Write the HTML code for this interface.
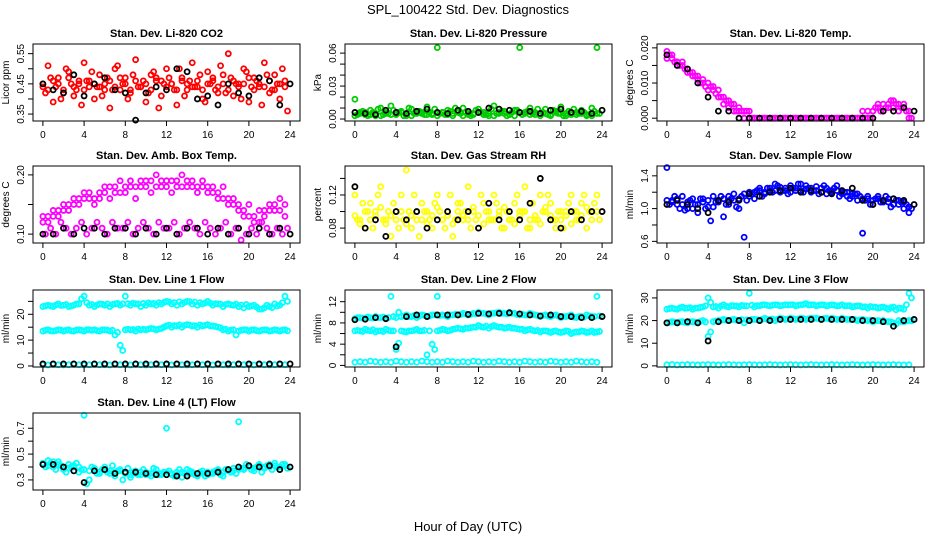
<!DOCTYPE html>
<html><head><meta charset="utf-8"><style>
body{margin:0;background:#fff;}
svg{display:block;font-family:"Liberation Sans",sans-serif;}
</style></head><body>
<svg id="chart" width="936" height="540" viewBox="0 0 936 540">
<text x="468" y="14" text-anchor="middle" font-size="13">SPL_100422  Std. Dev. Diagnostics</text>
<text x="468" y="531" text-anchor="middle" font-size="13">Hour of Day (UTC)</text>
</svg>
<script>
const hours48=[0,0.5,1,1.5,2,2.5,3,3.5,4,4.5,5,5.5,6,6.5,7,7.5,8,8.5,9,9.5,10,10.5,11,11.5,12,12.5,13,13.5,14,14.5,15,15.5,16,16.5,17,17.5,18,18.5,19,19.5,20,20.5,21,21.5,22,22.5,23,23.5];
const hours48b=[0.25,0.75,1.25,1.75,2.25,2.75,3.25,3.75,4.25,4.75,5.25,5.75,6.25,6.75,7.25,7.75,8.25,8.75,9.25,9.75,10.25,10.75,11.25,11.75,12.25,12.75,13.25,13.75,14.25,14.75,15.25,15.75,16.25,16.75,17.25,17.75,18.25,18.75,19.25,19.75,20.25,20.75,21.25,21.75,22.25,22.75,23.25,23.75];
const hours25=[0,1,2,3,4,5,6,7,8,9,10,11,12,13,14,15,16,17,18,19,20,21,22,23,24];
const xTicks=[0,4,8,12,16,20,24];

const co2A=[0.45,0.51,0.39,0.47,0.43,0.49,0.41,0.46,0.52,0.44,0.40,0.48,0.45,0.37,0.50,0.43,0.47,0.42,0.53,0.44,0.39,0.48,0.46,0.41,0.50,0.45,0.38,0.47,0.43,0.52,0.44,0.40,0.49,0.46,0.42,0.48,0.55,0.41,0.45,0.50,0.39,0.47,0.44,0.52,0.42,0.48,0.40,0.46];
const co2B=[0.42,0.47,0.44,0.40,0.50,0.45,0.43,0.38,0.46,0.49,0.44,0.41,0.47,0.43,0.51,0.45,0.40,0.48,0.44,0.46,0.42,0.49,0.37,0.45,0.47,0.43,0.50,0.41,0.46,0.44,0.48,0.39,0.45,0.43,0.51,0.42,0.47,0.45,0.40,0.49,0.44,0.46,0.38,0.48,0.43,0.45,0.50,0.36];
const co2C=[0.44,0.43,0.46,0.45,0.42,0.47,0.44,0.45,0.43,0.46,0.45,0.44,0.43,0.46,0.44,0.47,0.45,0.43,0.46,0.44,0.45,0.43,0.47,0.46,0.44,0.45,0.43,0.46,0.45,0.44,0.46,0.43,0.45,0.47,0.44,0.45,0.43,0.46,0.44,0.45,0.47,0.43,0.45,0.44,0.46,0.43,0.45,0.44];
const co2K=[0.45,0.43,0.42,0.48,0.41,0.45,0.47,0.43,0.42,0.33,0.42,0.44,0.43,0.50,0.49,0.40,0.41,0.38,0.45,0.42,0.41,0.47,0.46,0.38,0.45];

const presA=[0.018,0.006,0.004,0.008,0.003,0.010,0.005,0.012,0.004,0.007,0.003,0.009,0.006,0.005,0.011,0.004,0.065,0.006,0.008,0.003,0.007,0.010,0.005,0.004,0.009,0.006,0.003,0.012,0.005,0.007,0.004,0.008,0.065,0.006,0.010,0.004,0.005,0.009,0.003,0.007,0.011,0.005,0.006,0.004,0.008,0.003,0.010,0.065];
const presB=[0.004,0.007,0.003,0.006,0.009,0.004,0.005,0.008,0.006,0.003,0.010,0.005,0.007,0.004,0.006,0.009,0.005,0.004,0.007,0.010,0.005,0.006,0.003,0.008,0.006,0.004,0.009,0.005,0.007,0.003,0.006,0.008,0.004,0.007,0.005,0.009,0.006,0.004,0.008,0.005,0.003,0.007,0.009,0.005,0.006,0.004,0.007,0.005];
const presC=[0.003,0.005,0.006,0.004,0.005,0.003,0.006,0.004,0.005,0.006,0.004,0.003,0.005,0.006,0.004,0.005,0.003,0.006,0.004,0.005,0.006,0.003,0.004,0.005,0.006,0.004,0.005,0.003,0.006,0.005,0.004,0.003,0.006,0.005,0.004,0.006,0.003,0.005,0.004,0.006,0.005,0.003,0.004,0.006,0.005,0.004,0.003,0.005];
const presK=[0.006,0.005,0.004,0.008,0.006,0.005,0.007,0.009,0.006,0.005,0.008,0.007,0.006,0.010,0.009,0.008,0.006,0.007,0.005,0.008,0.009,0.006,0.007,0.005,0.008];

const tempA=[0.019,0.017,0.016,0.016,0.014,0.013,0.012,0.011,0.010,0.009,0.008,0.006,0.005,0.004,0.003,0.002,0.002,0.0,0.0,0.0,0.0,0.0,0.0,0.0,0.0,0.0,0.0,0.0,0.0,0.0,0.0,0.0,0.0,0.0,0.0,0.0,0.0,0.0,0.002,0.0,0.002,0.003,0.004,0.003,0.005,0.004,0.003,0.002];
const tempB=[0.018,0.016,0.015,0.014,0.013,0.012,0.010,0.009,0.009,0.007,0.006,0.005,0.004,0.002,0.002,0.002,0.0,0.0,0.0,0.0,0.0,0.0,0.0,0.0,0.0,0.0,0.0,0.0,0.0,0.0,0.0,0.0,0.0,0.0,0.0,0.0,0.0,0.0,0.0,0.0,0.003,0.002,0.003,0.005,0.004,0.003,0.002,0.0];
const tempC=[0.017,0.018,0.016,0.015,0.013,0.012,0.011,0.010,0.008,0.008,0.006,0.004,0.003,0.002,0.002,0.0,0.0,0.0,0.0,0.0,0.0,0.0,0.0,0.0,0.0,0.0,0.0,0.0,0.0,0.0,0.0,0.0,0.0,0.0,0.0,0.0,0.0,0.0,0.0,0.002,0.002,0.004,0.002,0.004,0.003,0.002,0.004,0.0];
const tempK=[0.018,0.015,0.014,0.010,0.006,0.002,0.002,0,0,0,0,0,0,0,0,0,0,0,0,0,0,0.002,0.002,0.003,0.002];

const boxA=[0.13,0.12,0.14,0.13,0.15,0.14,0.16,0.15,0.17,0.16,0.15,0.17,0.18,0.16,0.17,0.19,0.17,0.18,0.16,0.19,0.18,0.17,0.20,0.18,0.19,0.17,0.18,0.20,0.19,0.18,0.17,0.19,0.18,0.17,0.16,0.18,0.15,0.16,0.14,0.13,0.15,0.12,0.14,0.13,0.15,0.14,0.16,0.15];
const boxB=[0.10,0.11,0.10,0.12,0.11,0.10,0.11,0.12,0.10,0.11,0.12,0.11,0.10,0.12,0.11,0.11,0.12,0.10,0.11,0.12,0.11,0.10,0.12,0.11,0.11,0.12,0.10,0.11,0.12,0.11,0.10,0.12,0.11,0.10,0.11,0.12,0.10,0.11,0.09,0.10,0.11,0.10,0.12,0.11,0.10,0.11,0.10,0.11];
const boxC=[0.12,0.13,0.13,0.14,0.14,0.15,0.15,0.16,0.16,0.17,0.16,0.16,0.17,0.18,0.18,0.17,0.18,0.19,0.18,0.18,0.19,0.19,0.18,0.19,0.18,0.19,0.19,0.18,0.18,0.19,0.18,0.18,0.17,0.18,0.17,0.16,0.16,0.15,0.15,0.14,0.13,0.13,0.12,0.14,0.14,0.15,0.14,0.13];
const boxK=[0.10,0.10,0.11,0.10,0.11,0.11,0.10,0.11,0.11,0.10,0.11,0.10,0.11,0.10,0.11,0.11,0.10,0.11,0.10,0.11,0.10,0.11,0.10,0.11,0.10];

const rhA=[0.12,0.09,0.08,0.11,0.10,0.13,0.09,0.07,0.10,0.12,0.15,0.08,0.09,0.11,0.10,0.08,0.12,0.09,0.10,0.07,0.11,0.09,0.13,0.10,0.08,0.11,0.09,0.12,0.10,0.08,0.09,0.11,0.10,0.13,0.08,0.09,0.12,0.10,0.11,0.08,0.09,0.10,0.12,0.09,0.11,0.08,0.10,0.12];
const rhB=[0.09,0.11,0.10,0.08,0.12,0.09,0.10,0.11,0.08,0.09,0.10,0.12,0.07,0.10,0.09,0.11,0.10,0.08,0.12,0.09,0.11,0.10,0.08,0.09,0.12,0.10,0.09,0.11,0.08,0.10,0.09,0.12,0.10,0.08,0.11,0.09,0.10,0.12,0.09,0.10,0.08,0.11,0.10,0.09,0.12,0.10,0.11,0.09];
const rhC=[0.095,0.085,0.10,0.09,0.095,0.105,0.085,0.095,0.09,0.10,0.085,0.095,0.10,0.09,0.085,0.095,0.105,0.09,0.095,0.085,0.10,0.095,0.09,0.105,0.095,0.085,0.10,0.09,0.095,0.105,0.09,0.085,0.095,0.10,0.09,0.095,0.085,0.105,0.095,0.09,0.10,0.095,0.085,0.10,0.095,0.105,0.09,0.10];
const rhK=[0.13,0.08,0.09,0.07,0.10,0.09,0.10,0.08,0.09,0.10,0.09,0.10,0.08,0.11,0.09,0.10,0.09,0.11,0.14,0.09,0.08,0.10,0.09,0.10,0.10];

const sfA=[1.50,1.10,1.05,1.15,1.00,1.12,0.95,1.08,1.02,1.15,1.10,0.90,1.05,1.18,1.00,0.65,1.20,1.12,1.25,1.18,1.22,1.30,1.20,1.25,1.28,1.22,1.30,1.24,1.20,1.27,1.25,1.18,1.22,1.28,1.20,1.15,1.18,1.10,0.70,1.12,1.05,1.15,1.08,1.12,1.05,1.10,1.00,0.95];
const sfB=[1.05,1.15,1.00,0.98,1.10,1.05,1.12,1.00,0.85,1.08,1.15,1.05,1.12,1.02,1.15,1.10,1.18,1.22,1.15,1.25,1.20,1.28,1.22,1.18,1.25,1.30,1.20,1.25,1.22,1.18,1.28,1.22,1.25,1.15,1.20,1.12,1.18,1.15,1.10,1.05,1.12,1.08,1.15,1.02,1.10,1.08,1.05,1.00];
const sfC=[1.10,1.08,1.12,1.05,1.08,1.00,1.05,1.12,1.10,1.02,1.08,1.12,1.15,1.10,1.12,1.18,1.15,1.20,1.22,1.20,1.25,1.22,1.26,1.22,1.20,1.25,1.22,1.28,1.25,1.22,1.20,1.25,1.20,1.22,1.18,1.20,1.15,1.18,1.12,1.15,1.10,1.12,1.10,1.08,1.12,1.05,1.08,1.02];
const sfK=[1.05,1.10,1.05,1.00,0.95,1.10,1.08,1.10,1.18,1.15,1.20,1.22,1.25,1.20,1.22,1.20,1.18,1.22,1.25,1.10,1.05,1.10,1.12,1.10,1.05];

const l1Top=[23,23.5,23,24,23.5,23,23.5,24,27,23.5,23,24,23.5,23,24,23.5,27,23.5,24,23,23.5,24,23.5,24,25,24,23.5,24,25,24,23.5,24,25,23.5,24,23,24,23.5,23,22.5,23,23.5,22,22.5,23,24,23.5,27];
const l1TopB=[23.2,23.2,23.6,23.4,23.8,23.2,24,26,24.5,23.8,23.6,23.9,24,23.8,24.2,24,24.1,24.3,24,24.2,24.4,24.2,24.5,24.6,24.8,24.5,24.8,24.6,24.9,24.7,24.5,24.4,24.3,24.1,23.9,23.8,23.7,23.9,23.6,23.8,23.2,22.8,22,23.5,22.6,23.2,24.5,25];
const l1Mid=[13.5,14,13.5,14,13.5,14,13.5,14,13.5,14,14,13.5,14,13.5,12,8,14,14,13.5,14,14,14.5,14,14.5,15.5,15,15.5,15,16,15.5,15,15.5,16,15.5,15,14,13.5,14,13.5,14,13.5,14,13.5,14,13.5,14,13.5,14];
const l1MidB=[13.8,13.6,13.7,13.9,13.8,13.6,13.9,13.8,14,13.8,13.7,14,13.9,13.8,13,6,14.2,14.1,14.3,14.2,14.3,14.4,14.3,15,15.8,15.6,15.9,15.7,15.8,15.6,15.9,15.7,15.5,15.3,14.8,14.2,13.9,12,13.8,14,13.9,13.7,13.8,13.9,13.7,13.8,13.9,13.6];
const l1Low=[0.5,0.4,0.6,0.5,0.4,0.5,0.6,0.5,0.4,0.5,0.6,0.5,0.5,0.4,0.6,0.5,0.5,0.4,0.6,0.5,0.4,0.5,0.6,0.5,0.5,0.4,0.6,0.5,0.4,0.5,0.6,0.5,0.5,0.4,0.6,0.5,0.4,0.5,0.6,0.5,0.5,0.4,0.6,0.5,0.4,0.5,0.6,0.5];
const l1K=[0.8,0.8,0.8,0.8,0.8,0.8,0.8,0.8,0.8,0.8,0.8,0.8,0.8,0.8,0.8,0.8,0.8,0.8,0.8,0.8,0.8,0.8,0.8,0.8,0.8];

const l2Top=[8.8,9,8.8,9,9.2,9,8.8,13,9,9.2,9.5,9.2,9,9.5,9.2,9.5,13,9.5,9.2,9.5,9.5,9.8,9.5,9.8,10,9.8,9.5,9.8,10,9.8,10,9.8,9.5,9.5,9.8,9.5,9.2,9.5,9.2,9.5,9,9.2,9.5,9,9.2,9.5,9.2,13];
const l2TopB=[9,8.9,9.1,8.9,9,9.1,9,9.2,10,9.3,9.2,9.4,9.3,9.4,9.3,9.5,9.4,9.4,9.5,9.6,9.6,9.7,9.6,9.7,9.8,9.7,9.8,9.9,9.8,9.7,9.8,9.6,9.6,9.5,9.6,9.4,9.4,9.3,9.4,9.3,9.2,9.3,9.1,9.2,9.1,9.3,9.2,9.3];
const l2Mid=[6.5,6.5,6.8,6.5,6.3,6.5,6.8,6.5,3,6.5,6.3,6.5,6.8,6.5,2,4,6.5,6.8,6.5,6.8,7,6.8,7,7.2,7.5,7.2,7,7.5,7.2,7,7.2,7,6.8,6.5,6.8,6.5,6.3,6.5,6.2,6.5,6.2,6.5,6,6.3,6.5,6.2,6.5,6.3];
const l2MidB=[6.6,6.4,6.6,6.7,6.5,6.4,6.6,6.5,4.2,6.4,6.5,6.6,6.5,6.6,6.5,3,6.6,6.7,6.6,6.9,6.9,7,7.1,7.2,7.3,7.4,7.3,7.3,7.2,7.1,7,6.9,6.8,6.7,6.6,6.6,6.5,6.4,6.4,6.3,6.3,6.4,6.2,6.3,6.4,6.3,6.2,6.4];
const l2Low=[0.6,0.7,0.6,0.8,0.7,0.6,0.7,0.6,0.8,0.7,0.6,0.7,0.6,0.8,0.7,0.6,0.7,0.6,0.8,0.7,0.6,0.7,0.6,0.8,0.7,0.6,0.7,0.6,0.8,0.7,0.6,0.7,0.6,0.8,0.7,0.6,0.7,0.6,0.8,0.7,0.6,0.7,0.6,0.8,0.7,0.6,0.7,0.6];
const l2K=[8.6,8.7,9,8.8,3.5,9.2,9.5,9.2,9.5,9.5,9.5,9.6,9.8,9.7,9.8,9.9,9.7,9.5,9.3,9.5,9.2,9.2,9.0,9.0,9.2];

const l3Top=[25,25.5,25,26,25.5,25,25.5,26,30,26,25.5,27,26,26.5,26,26.5,32,26,26.5,27,26.5,27,26.5,27,27,26.5,27,27.5,27,26.5,27,26.5,27,26.5,27,26.5,26,26.5,26,25.5,26,25.5,26,25,26,25.5,25,32];
const l3TopB=[25.3,25.2,25.6,25.4,25.7,25.5,25.8,26.5,28,26.2,26.4,26.3,26.6,26.4,26.7,26.5,26.8,26.6,26.9,26.7,26.8,26.9,26.7,26.9,27,26.8,27.1,26.9,27,26.8,26.9,26.7,26.8,26.6,26.5,26.6,26.3,26.4,26.1,26.2,25.9,25.8,25.6,25.7,24.8,25.4,27,30];
const l3Mid=[19,19.5,19,19.5,19,19.5,19,20,13,19.5,20,20.5,20,20.5,20,19,20,20.5,20,21,20.5,20,21,20.5,21,20.5,21,20.5,21,21,20.5,21,21,20.5,21,20.5,20.5,20,20.5,20,19.5,20,20,19.5,19,20,19.5,20];
const l3MidB=[19.2,19.3,19.4,19.2,19.5,19.3,19.6,19.4,15,19.8,20.1,20.2,20.3,20.2,20.4,20.3,20.5,20.4,20.6,20.5,20.7,20.6,20.8,20.7,20.8,20.7,20.9,20.8,20.9,20.8,20.9,20.7,20.8,20.6,20.7,20.5,20.4,20.3,20.2,20.1,19.9,19.8,19.6,19.4,18.5,19.6,19.8,19.9];
const l3Low=[0.5,0.6,0.4,0.5,0.6,0.5,0.4,0.5,0.6,0.5,0.4,0.5,0.6,0.5,0.4,0.5,0.6,0.5,0.4,0.5,0.6,0.5,0.4,0.5,0.6,0.5,0.4,0.5,0.6,0.5,0.4,0.5,0.6,0.5,0.4,0.5,0.6,0.5,0.4,0.5,0.6,0.5,0.4,0.5,0.6,0.5,0.4,0.5];
const l3K=[19,19,19.5,19,11,19.5,20,20,20,20,20,20.5,20.5,20.5,20.5,20.5,20.5,20.5,20.5,20,20,19.5,17.5,20,20.5];

const l4A=[0.42,0.45,0.40,0.44,0.38,0.42,0.40,0.36,0.80,0.30,0.38,0.35,0.40,0.37,0.33,0.38,0.35,0.32,0.37,0.34,0.36,0.33,0.38,0.35,0.70,0.34,0.36,0.32,0.38,0.35,0.33,0.37,0.34,0.36,0.38,0.33,0.37,0.39,0.75,0.38,0.41,0.37,0.42,0.39,0.40,0.43,0.38,0.41];
const l4B=[0.40,0.43,0.38,0.41,0.36,0.40,0.43,0.38,0.27,0.40,0.35,0.38,0.36,0.41,0.37,0.30,0.39,0.36,0.34,0.38,0.35,0.39,0.34,0.36,0.37,0.33,0.38,0.35,0.37,0.34,0.36,0.33,0.35,0.37,0.34,0.38,0.36,0.35,0.39,0.42,0.38,0.40,0.36,0.41,0.38,0.40,0.42,0.39];
const l4C=[0.43,0.41,0.44,0.42,0.40,0.39,0.41,0.40,0.38,0.37,0.39,0.36,0.38,0.35,0.36,0.37,0.35,0.34,0.35,0.36,0.34,0.35,0.35,0.34,0.36,0.35,0.34,0.36,0.35,0.36,0.34,0.35,0.36,0.35,0.37,0.36,0.38,0.37,0.38,0.39,0.40,0.39,0.41,0.40,0.42,0.41,0.40,0.42];
const l4K=[0.42,0.42,0.40,0.37,0.28,0.37,0.38,0.35,0.36,0.36,0.35,0.34,0.34,0.33,0.33,0.35,0.35,0.36,0.38,0.40,0.41,0.40,0.41,0.38,0.40];

const panels=[
 {name:'co2',title:'Stan. Dev. Li-820 CO2',ylab:'Licor ppm',dom:[0.327,0.582],yt:[0.35,0.40,0.45,0.50,0.55],yl:['0.35','','0.45','','0.55'],col:'#ff0000',s:[co2A,co2B,co2C],k:co2K},
 {name:'pressure',title:'Stan. Dev. Li-820 Pressure',ylab:'kPa',dom:[-0.0018,0.0683],yt:[0,0.01,0.02,0.03,0.04,0.05,0.06],yl:['0.00','','','0.03','','','0.06'],col:'#00cc00',s:[presA,presB,presC],k:presK},
 {name:'temp',title:'Stan. Dev. Li-820 Temp.',ylab:'degrees C',dom:[-0.0008,0.0211],yt:[0,0.005,0.010,0.015,0.020],yl:['0.000','','0.010','','0.020'],col:'#ff00ff',s:[tempA,tempB,tempC],k:tempK},
 {name:'amb-box-temp',title:'Stan. Dev. Amb. Box Temp.',ylab:'degrees C',dom:[0.085,0.215],yt:[0.10,0.15,0.20],yl:['0.10','','0.20'],col:'#ff00ff',s:[boxA,boxB,boxC],k:boxK},
 {name:'gas-rh',title:'Stan. Dev. Gas Stream RH',ylab:'percent',dom:[0.062,0.155],yt:[0.08,0.10,0.12,0.14],yl:['0.08','','0.12',''],col:'#ffff00',s:[rhA,rhB,rhC],k:rhK},
 {name:'sample-flow',title:'Stan. Dev. Sample Flow',ylab:'ml/min',dom:[0.58,1.52],yt:[0.6,0.8,1.0,1.2,1.4],yl:['0.6','','1.0','','1.4'],col:'#0000ff',s:[sfA,sfB,sfC],k:sfK},
 {name:'line1-flow',title:'Stan. Dev. Line 1 Flow',ylab:'ml/min',dom:[-0.4,29.4],yt:[0,5,10,15,20,25],yl:['0','','10','','20',''],col:'#00ffff',s:[l1Top,l1TopB,l1Mid,l1MidB,l1Low],k:l1K},
 {name:'line2-flow',title:'Stan. Dev. Line 2 Flow',ylab:'ml/min',dom:[-0.3,14.2],yt:[0,2,4,6,8,10,12],yl:['0','','4','','8','','12'],col:'#00ffff',s:[l2Top,l2TopB,l2Mid,l2MidB,l2Low],k:l2K},
 {name:'line3-flow',title:'Stan. Dev. Line 3 Flow',ylab:'ml/min',dom:[-0.5,33.5],yt:[0,10,20,30],yl:['0','10','20','30'],col:'#00ffff',s:[l3Top,l3TopB,l3Mid,l3MidB,l3Low],k:l3K},
 {name:'line4-flow',title:'Stan. Dev. Line 4 (LT) Flow',ylab:'ml/min',dom:[0.222,0.818],yt:[0.3,0.4,0.5,0.6,0.7],yl:['0.3','','0.5','','0.7'],col:'#00ffff',s:[l4A,l4B,l4C],k:l4K}
];
const colLeft=[33,345,657], rowTop=[44,166,290,413], W=267, H=77;
const NS='http://www.w3.org/2000/svg';
const svg=document.getElementById('chart');
function mk(tag,attrs,parent){const e=document.createElementNS(NS,tag);for(const a in attrs)e.setAttribute(a,attrs[a]);parent.appendChild(e);return e;}
panels.forEach((p,i)=>{
  const L=colLeft[i%3], T=rowTop[Math.floor(i/3)];
  const xs=h=>L+9.9+h*(W-19.8)/24;
  const ys=v=>T+H-(v-p.dom[0])/(p.dom[1]-p.dom[0])*H;
  const g=mk('g',{},svg);
  
  
  const t=mk('text',{x:L+W/2,y:T-7,'text-anchor':'middle','font-size':'11','font-weight':'bold'},g);
  t.textContent=p.title;
  
  
  const pts=mk('g',{fill:'none','stroke-width':'1.8'},g);
  
  
  p.s.forEach((arr,si)=>{
    const hs=si%2===0?hours48:hours48b;
    arr.forEach((v,j)=>{
      const c=mk('circle',{cx:xs(hs[j]),cy:ys(v),r:2.5,stroke:p.col},pts);
      
      
    });
  });
  p.k.forEach((v,j)=>{
    const c=mk('circle',{cx:xs(hours25[j]),cy:ys(v),r:2.5,stroke:'#000'},pts);
    
    
  });
  const box=mk('rect',{x:L,y:T,width:W,height:H,fill:'none',stroke:'#000','stroke-width':'1'},g);
  
  
  const ax=mk('g',{stroke:'#000','stroke-width':'1'},g);
  
  
  mk('line',{x1:xs(0),x2:xs(24),y1:T+H,y2:T+H},ax);
  xTicks.forEach(h=>{
    mk('line',{x1:xs(h),x2:xs(h),y1:T+H,y2:T+H+5},ax);
    const tl=mk('text',{x:xs(h),y:T+H+17,'text-anchor':'middle','font-size':'10',stroke:'none'},g);
    tl.textContent=h;
    
    
  });
  p.yt.forEach((v,j)=>{
    mk('line',{x1:L-5,x2:L,y1:ys(v),y2:ys(v)},ax);
    if(p.yl[j]){
      const yl=mk('text',{x:L-9,y:ys(v),'text-anchor':'middle','font-size':'10',transform:`rotate(-90 ${L-9} ${ys(v)})`},g);
      yl.textContent=p.yl[j];
      
      
    }
  });
  const yt=mk('text',{x:L-24,y:T+H/2,'text-anchor':'middle','font-size':'10',transform:`rotate(-90 ${L-24} ${T+H/2})`},g);
  yt.textContent=p.ylab;
  
  
});
</script>
</body></html>
